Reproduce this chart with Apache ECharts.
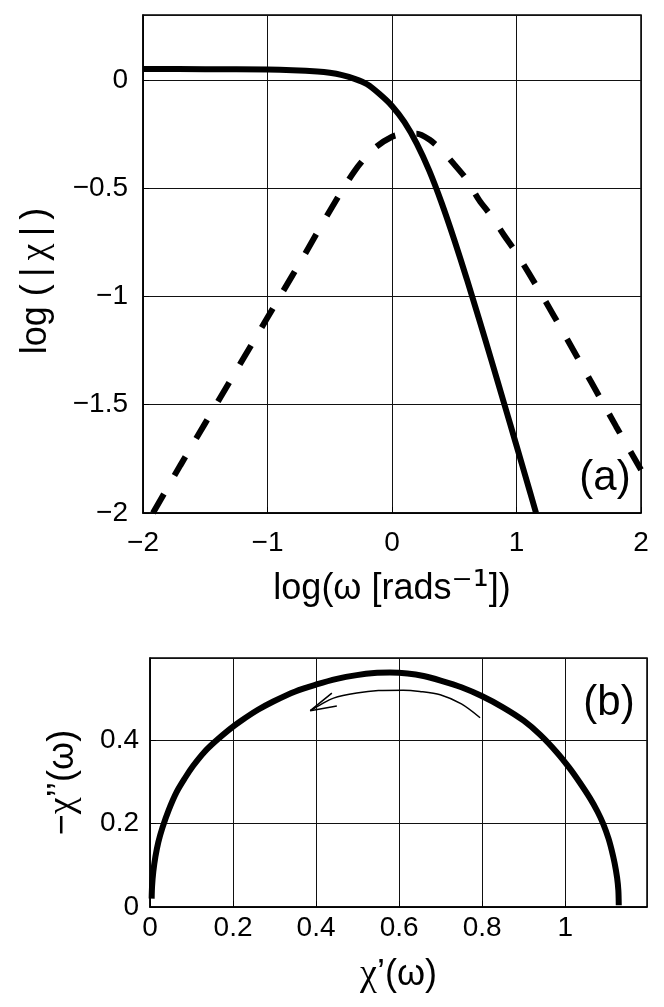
<!DOCTYPE html>
<html>
<head>
<meta charset="utf-8">
<script src="https://cdn.jsdelivr.net/npm/echarts@6/dist/echarts.min.js"></script>
<style>
	html, body { margin: 0; padding: 0; background: #fff; }
	#chart { width: 664px; height: 1007px; }
</style>
</head>
<body>
<div id="chart"></div>
<script>
	// panel (a): log|chi| against log(omega)
	var logOmegaSolid = [-2, -1.5, -1, -0.8, -0.6, -0.5, -0.4, -0.3, -0.2, -0.1, 0, 0.1, 0.2, 0.3, 0.4, 0.5, 0.6, 0.7, 0.8, 0.9, 1.0, 1.1, 1.157]
	var logChiSolid = [0.051, 0.050, 0.048, 0.045, 0.039, 0.033, 0.022, 0.005, -0.02, -0.065, -0.12, -0.195, -0.295, -0.42, -0.57, -0.738, -0.918, -1.106, -1.298, -1.493, -1.689, -1.886, -2.0]

	var logOmegaDashed = [-1.92, -1.7, -1.5, -1.3, -1.1, -0.9, -0.7, -0.5, -0.3, -0.15, 0, 0.1, 0.2, 0.3, 0.4, 0.5, 0.6, 0.7, 0.8, 0.9, 1.0, 1.2, 1.4, 1.6, 1.8, 2.0]
	var logChiDashed = [-2.0, -1.78, -1.585, -1.39, -1.195, -1.0, -0.805, -0.605, -0.42, -0.32, -0.262, -0.25, -0.248, -0.275, -0.325, -0.39, -0.46, -0.555, -0.63, -0.717, -0.80, -0.99, -1.19, -1.395, -1.6, -1.8]

	// panel (b): Cole-Cole plot
	var chiReal = [0.004, 0.005, 0.008, 0.013, 0.02, 0.03, 0.045, 0.064, 0.085, 0.104, 0.13, 0.157, 0.19, 0.217, 0.26, 0.297, 0.35, 0.399, 0.45, 0.498, 0.54, 0.578, 0.62, 0.659, 0.7, 0.75, 0.799, 0.85, 0.9, 0.94, 0.98, 1.01, 1.035, 1.06, 1.078, 1.092, 1.104, 1.112, 1.119, 1.125, 1.128, 1.129]
	var chiImagNeg = [0.02, 0.05, 0.085, 0.12, 0.155, 0.19, 0.232, 0.275, 0.31, 0.338, 0.37, 0.396, 0.424, 0.444, 0.472, 0.492, 0.516, 0.532, 0.546, 0.555, 0.56, 0.561, 0.559, 0.553, 0.542, 0.526, 0.505, 0.478, 0.446, 0.412, 0.37, 0.333, 0.298, 0.26, 0.228, 0.198, 0.165, 0.136, 0.105, 0.07, 0.04, 0.004]

	var arrowArcX = [0.795, 0.75, 0.699, 0.65, 0.61, 0.55, 0.498, 0.442, 0.41, 0.386]
	var arrowArcY = [0.453, 0.486, 0.508, 0.516, 0.519, 0.518, 0.512, 0.5, 0.484, 0.47]
	var arrowHeadX = [0.438, 0.386, 0.45]
	var arrowHeadY = [0.512, 0.47, 0.481]

	var FONT = '"Liberation Sans", Arial, Helvetica, sans-serif'
	var SERIF = '"Liberation Serif", "Times New Roman", serif'

	function pairs(xs, ys) {
		return xs.map(function (x, i) { return [x, ys[i]] })
	}

	function fmt(v) {
		var s = String(Math.round(v * 10) / 10)
		return s.replace('-', '\u2212')
	}

	// greek chi drawn in a serif face, like the symbol font of the original
	var richName = {
		chi: { fontFamily: SERIF, fontSize: 38, color: '#000' },
		sup: { fontFamily: '"DejaVu Sans", sans-serif', fontSize: 40, color: '#000' }
	}

	function axisBase(extra) {
		var ax = {
			type: 'value',
			axisLine: { show: true, onZero: false, lineStyle: { color: '#000', width: 1.5 } },
			axisTick: { show: true, inside: true, length: 6, lineStyle: { color: '#000', width: 1 } },
			splitLine: { show: true, lineStyle: { color: '#111', width: 1 } },
			axisLabel: {
				color: '#000',
				fontFamily: FONT,
				fontSize: 28,
				showMaxLabel: false,
				formatter: fmt
			},
			nameLocation: 'middle',
			nameTextStyle: { color: '#000', fontFamily: FONT, fontSize: 36, rich: richName }
		}
		for (var k in extra) {
			if (typeof extra[k] === 'object' && ax[k] && !Array.isArray(extra[k])) {
				ax[k] = Object.assign({}, ax[k], extra[k])
			} else {
				ax[k] = extra[k]
			}
		}
		return ax
	}

	var chart = echarts.init(document.getElementById('chart'), null, { renderer: 'canvas' })

	var option = {
		animation: false,
		backgroundColor: '#fff',
		grid: [
			{ left: 143, top: 15, width: 498, height: 498, show: true, borderColor: '#000', borderWidth: 1.5, containLabel: false },
			{ left: 150, top: 658, width: 497, height: 249, show: true, borderColor: '#000', borderWidth: 1.5, containLabel: false }
		],
		xAxis: [
			axisBase({
				gridIndex: 0, min: -2, max: 2, interval: 1,
				axisLabel: { margin: 16, showMaxLabel: true },
				name: 'log(\u03C9 [rads{sup|\u207B\u00B9}])',
				nameGap: 56
			}),
			axisBase({
				gridIndex: 1, min: 0, max: 1.197, interval: 0.2,
				axisLabel: { margin: 7 },
				name: '{chi|\u03C7}\u2019(\u03C9)',
				nameGap: 49
			})
		],
		yAxis: [
			axisBase({
				gridIndex: 0, min: -2, max: 0.3, interval: 0.5,
				axisLabel: { margin: 15 },
				name: 'log (\u2009|\u2009{chi|\u03C7}\u2009|\u2009)',
				nameGap: 88,
				nameTextStyle: { padding: [0, 34, 0, 0] }
			}),
			axisBase({
				gridIndex: 1, min: 0, max: 0.596, interval: 0.2,
				axisLabel: { margin: 11 },
				name: '\u2212{chi|\u03C7}\u2019\u2019(\u03C9)',
				nameGap: 68
			})
		],
		series: [
			{
				type: 'line', xAxisIndex: 0, yAxisIndex: 0,
				data: pairs(logOmegaSolid, logChiSolid),
				symbol: 'none', smooth: 0.3,
				lineStyle: { color: '#000', width: 6 }
			},
			{
				type: 'line', xAxisIndex: 0, yAxisIndex: 0,
				data: pairs(logOmegaDashed, logChiDashed),
				symbol: 'none', smooth: 0.3,
				lineStyle: { color: '#000', width: 6, type: [22, 21], cap: 'butt' }
			},
			{
				type: 'line', xAxisIndex: 1, yAxisIndex: 1,
				data: pairs(chiReal, chiImagNeg),
				symbol: 'none', smooth: 0.3,
				lineStyle: { color: '#000', width: 6 }
			},
			{
				type: 'line', xAxisIndex: 1, yAxisIndex: 1,
				data: pairs(arrowArcX, arrowArcY),
				symbol: 'none', smooth: 0.3,
				lineStyle: { color: '#000', width: 1.5 }
			},
			{
				type: 'line', xAxisIndex: 1, yAxisIndex: 1,
				data: pairs(arrowHeadX, arrowHeadY),
				symbol: 'none',
				lineStyle: { color: '#000', width: 1.5 }
			}
		],
		graphic: [
			{
				type: 'text', x: 605, y: 478,
				style: { text: '(a)', fontFamily: FONT, fontSize: 42, fill: '#000', align: 'center', verticalAlign: 'middle' }
			},
			{
				type: 'text', x: 609, y: 703,
				style: { text: '(b)', fontFamily: FONT, fontSize: 42, fill: '#000', align: 'center', verticalAlign: 'middle' }
			}
		]
	}

	chart.setOption(option)
</script>
</body>
</html>
